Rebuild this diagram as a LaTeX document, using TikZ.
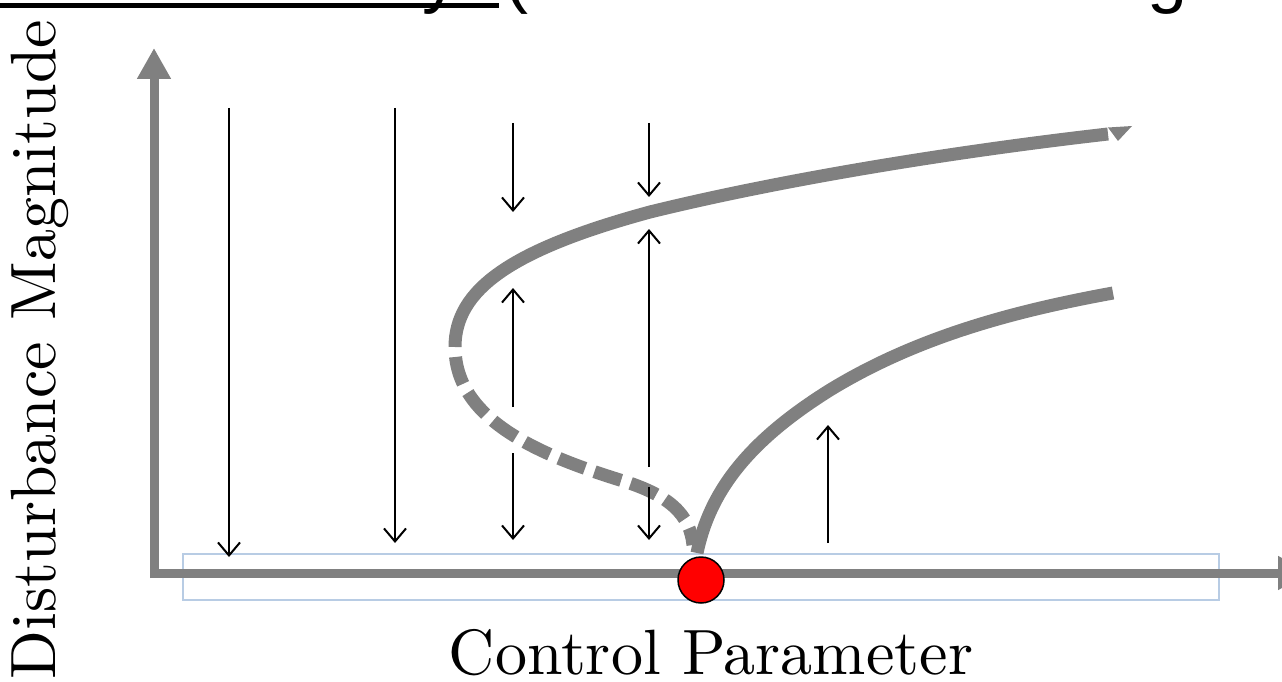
\documentclass[tikz,border=0pt]{standalone}
\usepackage{fontspec}
\newfontfamily\titlefont{Liberation Sans}
\newfontfamily\lmten{lmroman10-regular.otf}
\usetikzlibrary{arrows.meta}
\definecolor{axisgray}{RGB}{128,128,128}
\definecolor{boxblue}{RGB}{184,204,228}
\tikzset{
  axisline/.style={draw=axisgray, line width=9pt, -{Triangle[length=31pt,width=32pt]}},
  branch/.style={draw=axisgray, line width=13pt},
  unstable/.style={branch, dash pattern=on 28pt off 10pt, dash phase=28pt},
  flow/.style={draw=black, line width=2pt, -{Straight Barb[length=13pt,width=22pt]}},
  bigtitle/.style={font=\titlefont\fontsize{72}{80}\selectfont, inner sep=0pt, anchor=base west},
  axislabel/.style={font=\lmten\fontsize{64}{70}\selectfont, inner sep=0pt, anchor=base},
}
\begin{document}
\begin{tikzpicture}[x=1pt,y=-1pt]
\useasboundingbox (0,0) rectangle (1282,682);
% cropped title fragments
\node[bigtitle] (t1) at (422,0) {y};
\node[bigtitle] (t2) at (504,0) {(};
\node[bigtitle] (t3) at (1147,0) {g};
\coordinate (ul1) at (0,6);
\coordinate (ul2) at (499,6);
\draw[line width=5pt] (ul1) -- (ul2);
% highlight box
\node[draw=boxblue, line width=1.5pt, inner sep=0pt, minimum width=1036pt, minimum height=46pt] (box) at (701,577) {};
% axes
\coordinate (O) at (154,578);
\coordinate (ytop) at (154,48);
\coordinate (xl) at (150,573);
\coordinate (xr) at (1309,573);
\draw[axisline] (O) -- (ytop);
\draw[axisline] (xl) -- (xr);
% branches
\coordinate (nose) at (455,347);
\coordinate (mid) at (650,212);
\coordinate (uend) at (1108,134);
\draw[branch] (nose) .. controls (455,290) and (510,250) .. (mid)
  .. controls (780,180) and (950,152) .. (uend);
\fill[axisgray] (1108,127.5) -- (1132,126) -- (1118,141) -- cycle;
\coordinate (dmid) at (620,480);
\coordinate (dend) at (693,545);
\draw[unstable] (nose) .. controls (455,420) and (540,455) .. (dmid)
  .. controls (670,495) and (690,515) .. (dend);
\coordinate (lstart) at (697,553);
\coordinate (lmid) at (830,390);
\coordinate (lend) at (1113,293);
\draw[branch] (lstart) .. controls (710,490) and (750,440) .. (lmid)
  .. controls (920,335) and (1020,310) .. (lend);
% bifurcation point
\node[circle, minimum size=46pt, inner sep=0pt, fill=red, draw=black, line width=1.5pt] (bp) at (701,580) {};
% flow arrows
\coordinate (a1s) at (229,108); \coordinate (a1e) at (229,557);
\coordinate (a2s) at (395,108); \coordinate (a2e) at (395,543);
\coordinate (a3s) at (513,123); \coordinate (a3e) at (513,212);
\coordinate (a4s) at (513,407); \coordinate (a4e) at (513,288);
\coordinate (a5s) at (513,453); \coordinate (a5e) at (513,540);
\coordinate (a6s) at (649,123); \coordinate (a6e) at (649,197);
\coordinate (a7s) at (649,467); \coordinate (a7e) at (649,229);
\coordinate (a8s) at (649,487); \coordinate (a8e) at (649,540);
\coordinate (a9s) at (828,543); \coordinate (a9e) at (828,425);
\foreach \i in {1,...,9} \draw[flow] (a\i s) -- (a\i e);
% labels
\node[axislabel] (xlab) at (711,674) {Control Parameter};
\node[axislabel, rotate=90] (ylab) at (55,349.5) {Disturbance Magnitude};
\end{tikzpicture}
\end{document}
